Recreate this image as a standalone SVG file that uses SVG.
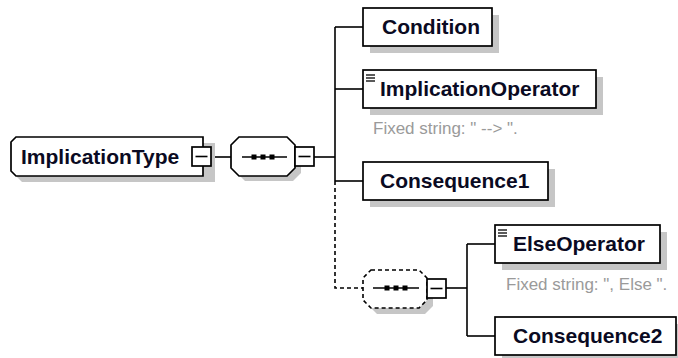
<svg xmlns="http://www.w3.org/2000/svg" width="678" height="358" viewBox="0 0 678 358">
<style>
.bg{fill:#ffffff}
.sh{fill:#c6c6c6;stroke:none}
.box{fill:#ffffff;stroke:#000000;stroke-width:1.7}
.dbox{fill:#ffffff;stroke:#000000;stroke-width:1.6;stroke-dasharray:4 3}
.ln{fill:none;stroke:#000000;stroke-width:1.6}
.dl{fill:none;stroke:#000000;stroke-width:1.6;stroke-dasharray:4 3}
.ic{fill:none;stroke:#000000;stroke-width:1.3}
.nm{font-family:"Liberation Sans",Arial,sans-serif;font-weight:bold;font-size:21px;fill:#0a0a22}
.fx{font-family:"Liberation Sans",Arial,sans-serif;font-size:17px;fill:#9a9a9a}
</style>
<rect class="bg" x="0" y="0" width="678" height="358"/>

<g id="connectors">
  <line class="ln" x1="211" y1="157" x2="231" y2="157"/>
  <line class="ln" x1="314" y1="157" x2="335" y2="157"/>
  <line class="ln" x1="335" y1="27" x2="335" y2="181"/>
  <line class="ln" x1="335" y1="27" x2="363" y2="27"/>
  <line class="ln" x1="335" y1="89" x2="363" y2="89"/>
  <line class="ln" x1="335" y1="181" x2="363" y2="181"/>
  <polyline class="dl" points="335,181 335,288 363,288"/>
  <line class="ln" x1="446" y1="288" x2="467" y2="288"/>
  <line class="ln" x1="467" y1="244" x2="467" y2="336"/>
  <line class="ln" x1="467" y1="244" x2="495" y2="244"/>
  <line class="ln" x1="467" y1="336" x2="495" y2="336"/>
</g>

<g id="ImplicationType">
  <polygon class="sh" points="22,143 215,143 215,182 22,182 17,177 17,148"/>
  <polygon class="box" points="16,137 203,137 203,176 16,176 11,171 11,142"/>
  <text class="nm" x="21" y="164">ImplicationType</text>
  <rect class="box" x="192" y="147" width="19" height="19"/>
  <line class="ln" x1="195.5" y1="156.5" x2="207.5" y2="156.5"/>
</g>

<g id="sequence">
  <polygon class="sh" points="245,143 293,143 301,151 301,173 293,181 245,181 237,173 237,151"/>
  <polygon class="box" points="239,137 287,137 295,145 295,168 287,176 239,176 231,168 231,145"/>
  <line class="ln" x1="242" y1="157" x2="287" y2="157"/>
  <rect x="251.5" y="154.5" width="5" height="5" fill="#000"/>
  <rect x="260.5" y="154.5" width="5" height="5" fill="#000"/>
  <rect x="269.5" y="154.5" width="5" height="5" fill="#000"/>
  <rect class="box" x="295" y="147" width="19" height="19"/>
  <line class="ln" x1="298.5" y1="156.5" x2="310.5" y2="156.5"/>
</g>

<g id="Condition">
  <rect class="sh" x="370" y="15" width="129" height="38"/>
  <rect class="box" x="363" y="8" width="129" height="38"/>
  <text class="nm" x="382" y="34">Condition</text>
</g>

<g id="ImplicationOperator">
  <rect class="sh" x="370" y="77" width="233" height="38"/>
  <rect class="box" x="363" y="70" width="233" height="38"/>
  <line class="ic" x1="366" y1="75" x2="375" y2="75"/>
  <line class="ic" x1="366" y1="78" x2="375" y2="78"/>
  <line class="ic" x1="366" y1="81" x2="375" y2="81"/>
  <text class="nm" x="380" y="96">ImplicationOperator</text>
  <text class="fx" x="373" y="134">Fixed string: " --&gt; ".</text>
</g>

<g id="Consequence1">
  <rect class="sh" x="370" y="169" width="185" height="38"/>
  <rect class="box" x="363" y="162" width="185" height="38"/>
  <text class="nm" x="380" y="188">Consequence1</text>
</g>

<g id="optional-sequence">
  <polygon class="sh" points="377,276 425,276 433,284 433,306 425,314 377,314 369,306 369,284"/>
  <polygon class="dbox" points="371,270 419,270 427,278 427,300 419,308 371,308 363,300 363,278"/>
  <line class="ln" x1="373" y1="288" x2="419" y2="288"/>
  <rect x="384.5" y="285.5" width="5" height="5" fill="#000"/>
  <rect x="393.5" y="285.5" width="5" height="5" fill="#000"/>
  <rect x="402.5" y="285.5" width="5" height="5" fill="#000"/>
  <rect class="box" x="427" y="279" width="19" height="19"/>
  <line class="ln" x1="430.5" y1="288.5" x2="442.5" y2="288.5"/>
</g>

<g id="ElseOperator">
  <rect class="sh" x="502" y="232" width="165" height="38"/>
  <rect class="box" x="495" y="225" width="165" height="38"/>
  <line class="ic" x1="498" y1="230" x2="507" y2="230"/>
  <line class="ic" x1="498" y1="233" x2="507" y2="233"/>
  <line class="ic" x1="498" y1="236" x2="507" y2="236"/>
  <text class="nm" x="513" y="251">ElseOperator</text>
  <text class="fx" x="506" y="290">Fixed string: ", Else ".</text>
</g>

<g id="Consequence2">
  <rect class="sh" x="502" y="324" width="181" height="38"/>
  <rect class="box" x="495" y="317" width="181" height="38"/>
  <text class="nm" x="513" y="343">Consequence2</text>
</g>
</svg>
